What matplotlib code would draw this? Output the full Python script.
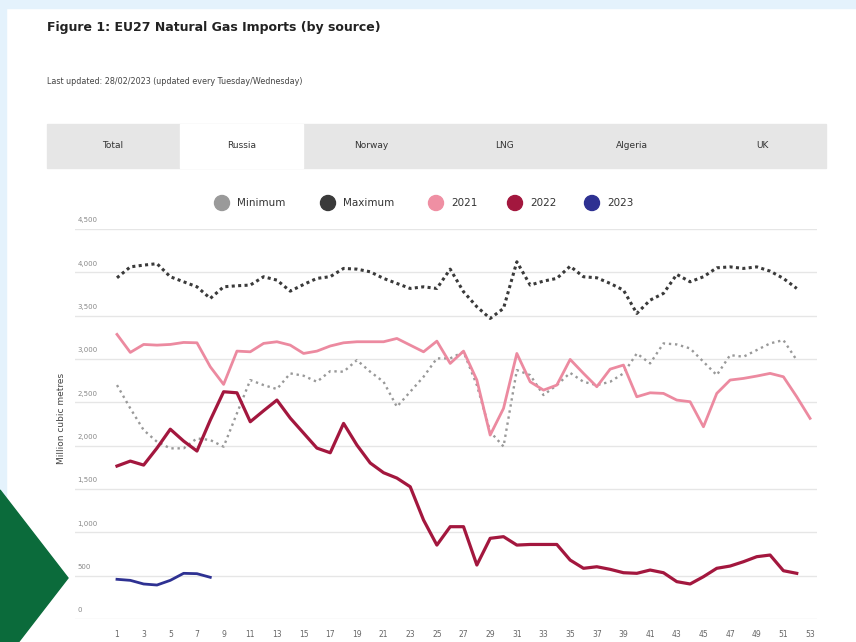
import numpy as np
import matplotlib.pyplot as plt
from matplotlib.patches import Rectangle, Polygon, Circle

# weekly imports from Russia, million cubic metres
weeks_all = list(range(1, 54))
minimum = [2699, 2430, 2180, 2045, 1969, 1969, 2084, 2065, 1988, 2373,
           2757, 2699, 2653, 2834, 2807, 2737, 2860, 2853, 2987, 2853,
           2737, 2449, 2622, 2795, 3007, 3007, 3083, 2699, 2160, 1990,
           2872, 2814, 2584, 2699, 2840, 2737, 2699, 2737, 2834, 3064,
           2949, 3180, 3168, 3122, 2968, 2814, 3045, 3026, 3103, 3180,
           3218, 2987]
maximum = [3937, 4063, 4083, 4100, 3949, 3891, 3833, 3699, 3833, 3845,
           3853, 3949, 3910, 3783, 3860, 3930, 3950, 4045, 4037, 4006,
           3930, 3872, 3814, 3833, 3814, 4037, 3776, 3603, 3468, 3584,
           4122, 3853, 3899, 3930, 4070, 3949, 3937, 3872, 3795, 3526,
           3679, 3757, 3976, 3891, 3949, 4052, 4063, 4045, 4063, 4014,
           3930, 3814]
y2021 = [3284, 3076, 3168, 3160, 3168, 3191, 3187, 2910, 2707, 3091,
         3083, 3180, 3199, 3160, 3064, 3091, 3150, 3187, 3199, 3199,
         3199, 3237, 3160, 3083, 3206, 2949, 3091, 2757, 2122, 2430,
         3064, 2737, 2641, 2699, 2995, 2834, 2680, 2883, 2930, 2564,
         2610, 2603, 2526, 2507, 2218, 2603, 2757, 2776, 2803, 2834,
         2795, 2564, 2315]
y2022 = [1765, 1822, 1776, 1972, 2190, 2053, 1938, 2295, 2622, 2610,
         2276, 2403, 2526, 2318, 2145, 1972, 1918, 2257, 2007, 1800,
         1688, 1626, 1526, 1142, 853, 1065, 1065, 623, 931, 950,
         853, 860, 860, 860, 680, 585, 603, 573, 534, 527,
         565, 534, 431, 404, 488, 585, 611, 661, 719, 738,
         557, 527]
y2023 = [458, 446, 404, 392, 446, 527, 523, 481]

tabs = ['Total', 'Russia', 'Norway', 'LNG', 'Algeria', 'UK']
yticks = [0, 500, 1000, 1500, 2000, 2500, 3000, 3500, 4000, 4500]

W, H = 856, 642
fig = plt.figure(figsize=(W / 100, H / 100), dpi=100)

# page decorations drawn in pixel coordinates
bg = fig.add_axes([0, 0, 1, 1])
bg.set_xlim(0, W)
bg.set_ylim(H, 0)
bg.axis('off')
bg.add_patch(Rectangle((0, 0), W, 8, color='#e4f2fc'))
bg.add_patch(Rectangle((0, 0), 6, H, color='#e4f2fc'))
bg.add_patch(Polygon([(0, 490), (68, 578), (0, 666)], color='#0b6b3b'))

bg.text(47, 28, 'Figure 1: EU27 Natural Gas Imports (by source)', fontsize=9,
        fontweight='bold', color='#222222', va='center', ha='left')
bg.text(47, 82, 'Last updated: 28/02/2023 (updated every Tuesday/Wednesday)',
        fontsize=5.8, color='#444444', va='center', ha='left')

bg.add_patch(Rectangle((47, 124), 779, 44, color='#e6e6e6'))
bg.add_patch(Rectangle((180, 124), 123, 44, color='white'))
tab_x = [113, 242, 371, 505, 632, 762]
for tx, name in zip(tab_x, tabs):
    bg.text(tx, 146, name, fontsize=6.5, color='#333333', ha='center', va='center')

leg = [('Minimum', '#9a9a9a', 222), ('Maximum', '#3a3a3a', 328),
       ('2021', '#ef8fa3', 436), ('2022', '#a3173e', 515), ('2023', '#2e3192', 592)]
for name, col, cx in leg:
    bg.add_patch(Circle((cx, 203), 7.5, color=col))
    bg.text(cx + 15, 203, name, fontsize=7.5, color='#333333', ha='left', va='center')

bg.text(62, 418, 'Million cubic metres', rotation=90, fontsize=6.5,
        color='#444444', ha='center', va='center')

# chart
left, right, top, bottom = 75, 817, 229, 619
ax = fig.add_axes([left / W, (H - bottom) / H, (right - left) / W, (bottom - top) / H])
ax.set_facecolor('none')

ax.plot(weeks_all[:52], maximum, color='#3a3a3a', lw=2.2, ls=(0, (1, 1.1)), zorder=2)
ax.plot(weeks_all[:52], minimum, color='#999999', lw=1.7, ls=(0, (1, 1.6)), zorder=3)
ax.plot(weeks_all, y2021, color='#ec8aa0', lw=2, zorder=4)
ax.plot(weeks_all[:52], y2022, color='#a3173e', lw=2.3, zorder=5)
ax.plot(weeks_all[:8], y2023, color='#2e3192', lw=2, zorder=6)

ax.set_xlim(-2.15, 53.52)
ax.set_ylim(0, 4500)
ax.set_yticks(yticks)
ax.set_yticklabels([])
ax.tick_params(axis='y', length=0)
ax.grid(axis='y', color='#e6e6e6', lw=1)
ax.set_axisbelow(True)
for v in yticks:
    ax.annotate(f'{v:,}', xy=(0.003, v), xycoords=('axes fraction', 'data'),
                xytext=(0, 4), textcoords='offset points', fontsize=5,
                color='#888888', ha='left', va='bottom')

ax.set_xticks(range(1, 54, 2))
ax.tick_params(axis='x', length=0, labelsize=5.5, labelcolor='#666666', pad=8)
for s in ax.spines.values():
    s.set_visible(False)

fig.savefig('out.png', dpi=100)
